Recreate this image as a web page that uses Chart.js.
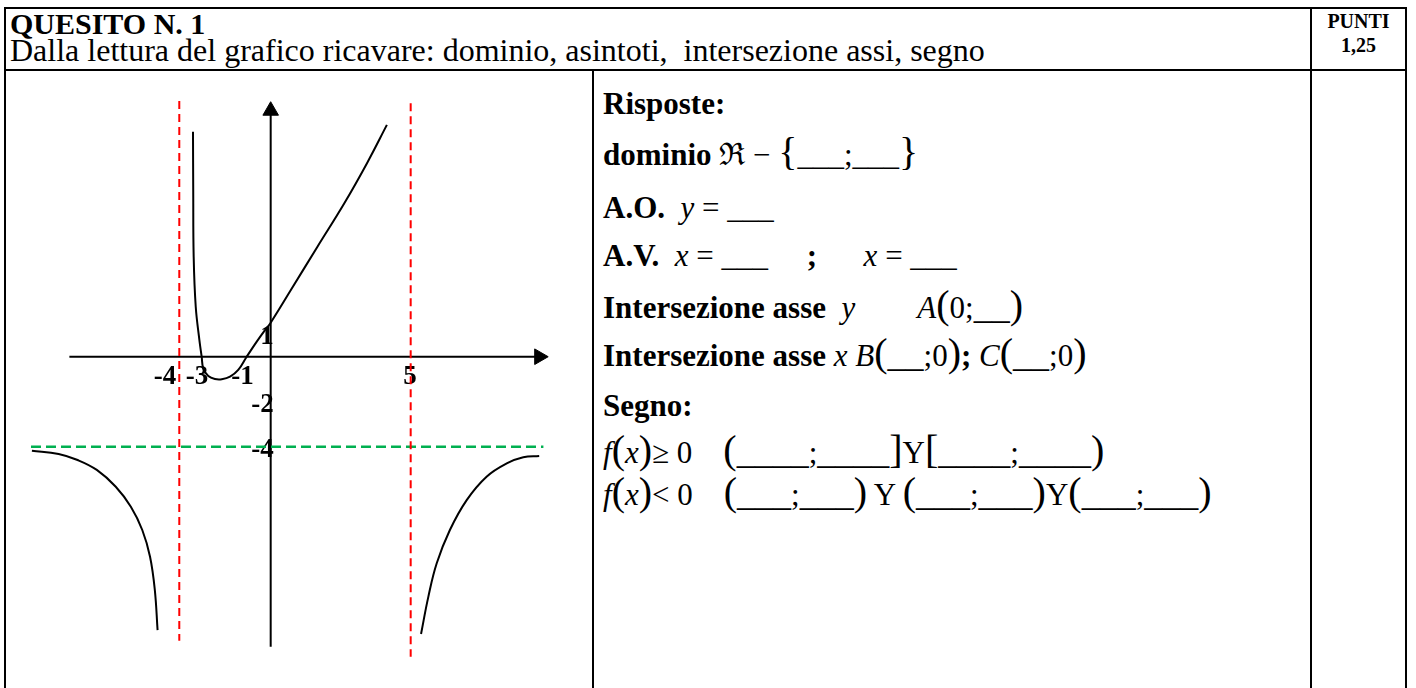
<!DOCTYPE html>
<html>
<head>
<meta charset="utf-8">
<script src="https://cdn.jsdelivr.net/npm/chart.js@4.4.1/dist/chart.umd.min.js"></script>
<style>
  body { margin: 0; width: 1416px; height: 688px; overflow: hidden; background: #fff; position: relative;
         font-family: "Liberation Serif", "Times New Roman", serif; color: #000; }
  .ln { position: absolute; background: #000; }
  .t { position: absolute; white-space: pre; line-height: 1; font-size: 31px; }
  .t b { font-weight: bold; }
  .t i { font-style: italic; }
  .big { font-size: 40px; line-height: 0; }
  .u { font-size: 36px; line-height: 0; }
  #graph { position: absolute; left: 7px; top: 72px; }
</style>
</head>
<body>
<div class="ln" style="left:4px;top:7px;width:1403px;height:2px"></div>
<div class="ln" style="left:4px;top:7px;width:2px;height:700px"></div>
<div class="ln" style="left:1405px;top:7px;width:2px;height:700px"></div>
<div class="ln" style="left:4px;top:69px;width:1403px;height:2px"></div>
<div class="ln" style="left:592px;top:69px;width:2px;height:640px"></div>
<div class="ln" style="left:1310px;top:7px;width:2px;height:700px"></div>

<div class="t" style="left:10px;top:9px;font-size:30px"><b>QUESITO N. 1</b></div>
<div class="t" style="left:10px;top:34px;font-size:32px">Dalla lettura del grafico ricavare: dominio, asintoti,  intersezione assi, segno</div>
<div class="t" style="left:1312px;width:93px;text-align:center;top:11px;font-size:20px"><b>PUNTI</b></div>
<div class="t" style="left:1312px;width:93px;text-align:center;top:35px;font-size:20px"><b>1,25</b></div>

<div class="t" style="left:603px;top:88px"><b>Risposte:</b></div>
<div class="t" style="left:603px;top:139px"><b>dominio</b> ℜ − <span class="big">{</span>___;___<span class="big">}</span></div>
<div class="t" style="left:603px;top:192px"><b>A.O.</b>  <i>y</i> = ___</div>
<div class="t" style="left:603px;top:240px"><b>A.V.</b>  <i>x</i> = ___     <b>;</b>      <i>x</i> = ___</div>
<div class="t" style="left:603px;top:292px"><b>Intersezione asse</b>  <i>y</i>        <i>A</i><span class="big">(</span>0;<span class="u">__</span><span class="big">)</span></div>
<div class="t" style="left:603px;top:340px"><b>Intersezione asse</b> <i>x</i> <i>B</i><span class="big">(</span><span class="u">__</span>;0<span class="big">)</span><b>;</b> <i>C</i><span class="big">(</span><span class="u">__</span>;0<span class="big">)</span></div>
<div class="t" style="left:603px;top:390px"><b>Segno:</b></div>
<div class="t" style="left:603px;top:437px"><i>f</i><span class="big">(</span><i>x</i><span class="big">)</span>≥ 0    <span class="big">(</span><span class="u">____</span>;<span class="u">____</span><span class="big">]</span>Y<span class="big">[</span><span class="u">____</span>;<span class="u">____</span><span class="big">)</span></div>
<div class="t" style="left:603px;top:479px"><i>f</i><span class="big">(</span><i>x</i><span class="big">)</span>&lt; 0    <span class="big">(</span><span class="u">___</span>;<span class="u">___</span><span class="big">)</span> Y <span class="big">(</span><span class="u">___</span>;<span class="u">___</span><span class="big">)</span>Y<span class="big">(</span><span class="u">___</span>;<span class="u">___</span><span class="big">)</span></div>

<canvas id="graph" width="584" height="616"></canvas>

<script>
// curve, three branches
const leftBranchX = [-10.45, -9.28, -8.45, -7.61, -6.78, -6.12, -5.62, -5.28, -5.07, -4.95];
const leftBranchY = [-4.18, -4.32, -4.59, -5.03, -5.78, -6.67, -7.70, -8.89, -10.37, -12.15];

const midBranchX = [-3.40, -3.39, -3.37, -3.28, -3.12, -3.02, -2.95, -2.73, -2.44, -2.14, -1.78, -1.42, -1.05, -0.61, -0.25, 0, 0.72, 1.67, 2.63, 3.44, 4.15];
const midBranchY = [10.0, 7.41, 4.44, 2.22, 0.74, 0, -0.52, -0.86, -0.99, -1.0, -0.89, -0.59, 0, 0.67, 1.18, 1.51, 2.96, 4.89, 6.82, 8.6, 10.3];

const rightBranchX = [5.37, 5.63, 5.93, 6.40, 7.00, 7.71, 8.43, 9.02, 9.59];
const rightBranchY = [-12.32, -10.67, -9.18, -7.70, -6.37, -5.33, -4.74, -4.47, -4.41];

// asymptotes
const verticalAsymptotes = [-4, 5];
const verticalTop = [11.36, 11.26];
const verticalBottom = [-12.62, -13.33];
const horizontalAsymptote = -4;
const horizontalFrom = -10.49;
const horizontalTo = 9.74;

// axes (end = centre of the arrow head)
const xAxisRange = [-8.81, 9.59];
const yAxisRange = [-12.89, 10.93];

// tick labels
const xTickValues = [-4, -3, -1, 5];
const xTickLabels = ["-4", "-3", "-1", "5"];
const yTickValues = [1, -2, -4];
const yTickLabels = ["1", "-2", "-4"];

// the sketch draws x > 0 wider than x < 0
const STRETCH = 28 / 22.85;

class SketchScale extends Chart.LinearScale {
  getPixelForValue(value) {
    return super.getPixelForValue(value > 0 ? value * STRETCH : value);
  }
  getValueForPixel(pixel) {
    const v = super.getValueForPixel(pixel);
    return v > 0 ? v / STRETCH : v;
  }
}
SketchScale.id = "sketch";
SketchScale.defaults = Chart.LinearScale.defaults;
Chart.register(SketchScale);

function zip(xs, ys) {
  return xs.map((x, i) => ({ x: x, y: ys[i] }));
}

const curve = { borderColor: "#000", borderWidth: 2, tension: 0.4, pointRadius: 0, showLine: true };

const datasets = [];
verticalAsymptotes.forEach((a, i) => {
  datasets.push({
    data: [{ x: a, y: verticalTop[i] }, { x: a, y: verticalBottom[i] }],
    borderColor: "#ff0000", borderWidth: 2, borderDash: [8, 5], pointRadius: 0, showLine: true,
  });
});
datasets.push({
  data: [{ x: horizontalFrom, y: horizontalAsymptote }, { x: horizontalTo, y: horizontalAsymptote }],
  borderColor: "#00b050", borderWidth: 2.5, borderDash: [10, 5], pointRadius: 0, showLine: true,
});
datasets.push(Object.assign({ data: zip(leftBranchX, leftBranchY) }, curve));
datasets.push(Object.assign({ data: zip(midBranchX, midBranchY) }, curve));
datasets.push(Object.assign({ data: zip(rightBranchX, rightBranchY) }, curve));
datasets.push({
  data: [{ x: xAxisRange[0], y: 0 }, { x: xAxisRange[1], y: 0 }],
  borderColor: "#000", borderWidth: 2, showLine: true,
  pointRadius: [0, 9], pointStyle: "triangle", pointRotation: 90,
  pointBackgroundColor: "#000", pointBorderColor: "#000", pointBorderWidth: 1,
});
datasets.push({
  data: [{ x: 0, y: yAxisRange[0] }, { x: 0, y: yAxisRange[1] }],
  borderColor: "#000", borderWidth: 2, showLine: true,
  pointRadius: [0, 9], pointStyle: "triangle", pointRotation: 0,
  pointBackgroundColor: "#000", pointBorderColor: "#000", pointBorderWidth: 1,
});

const tickLabels = {
  id: "tickLabels",
  beforeDatasetsDraw(chart) {
    const ctx = chart.ctx;
    const x = chart.scales.x;
    const y = chart.scales.y;
    ctx.save();
    ctx.font = 'bold 27px "Liberation Serif"';
    ctx.fillStyle = "#000";
    ctx.textBaseline = "middle";
    ctx.textAlign = "right";
    const y0 = y.getPixelForValue(0);
    xTickValues.forEach((v, i) => {
      // a negative label on an asymptote sits left of the dashed line
      const shift = v < 0 && verticalAsymptotes.includes(v) ? -3 : 6;
      ctx.fillText(xTickLabels[i], x.getPixelForValue(v) + shift, y0 + 20);
    });
    const x0 = x.getPixelForValue(0);
    yTickValues.forEach((v, i) => {
      ctx.fillText(yTickLabels[i], x0 + 3, y.getPixelForValue(v) + 3);
    });
    ctx.restore();
  },
};

new Chart(document.getElementById("graph"), {
  type: "scatter",
  data: { datasets: datasets },
  options: {
    responsive: false,
    animation: false,
    devicePixelRatio: 1,
    layout: { padding: 0, autoPadding: false },
    plugins: { legend: { display: false }, tooltip: { enabled: false } },
    scales: {
      x: { type: "sketch", min: -11.54, max: 11.44 * STRETCH, display: false },
      y: { type: "linear", min: -14.72, max: 12.65, display: false },
    },
  },
  plugins: [tickLabels],
});
</script>
</body>
</html>
